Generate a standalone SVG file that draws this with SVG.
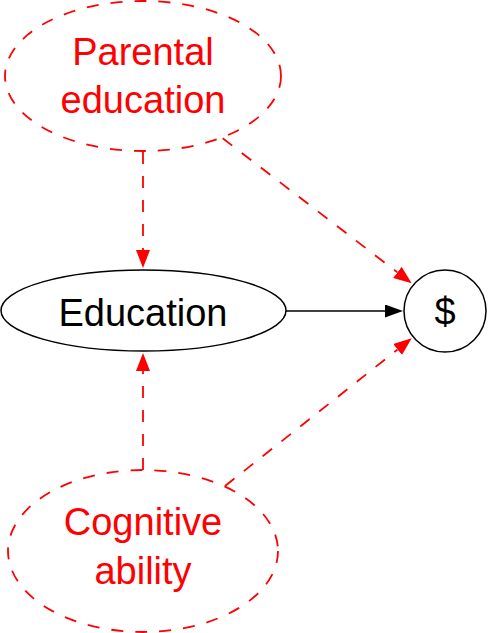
<svg xmlns="http://www.w3.org/2000/svg" width="488" height="633" viewBox="0 0 488 633">
<style>
.red{fill:none;stroke:#ff0000;stroke-width:1.8;stroke-dasharray:12 12}
.blk{fill:#ffffff;stroke:#000000;stroke-width:1.5}
.lbl{font-family:"Liberation Sans",Arial,sans-serif;font-size:38px;text-anchor:middle}
.rt{fill:#ff0000}
.bt{fill:#000000}
</style>
<defs>
<marker id="ar" markerUnits="userSpaceOnUse" markerWidth="18" markerHeight="14" refX="0" refY="7" orient="auto" viewBox="0 0 18 14">
<path d="M0,0 L18,7 L0,14 Z" fill="#ff0000"/>
</marker>
<marker id="ab" markerUnits="userSpaceOnUse" markerWidth="18" markerHeight="13" refX="0" refY="6.5" orient="auto" viewBox="0 0 18 13">
<path d="M0,0 L18,6.5 L0,13 Z" fill="#000000"/>
</marker>
</defs>
<g id="connectors">
<line x1="143" y1="152" x2="143" y2="250" class="red" marker-end="url(#ar)"/>
<line x1="143" y1="470" x2="143" y2="371" class="red" marker-end="url(#ar)"/>
<line x1="222.7" y1="138.3" x2="397.4" y2="272.4" class="red" marker-end="url(#ar)"/>
<line x1="225" y1="486" x2="397.6" y2="349.5" class="red" marker-end="url(#ar)"/>
<line x1="286" y1="311" x2="385" y2="311" stroke="#000000" stroke-width="1.5" marker-end="url(#ab)"/>
</g>
<g id="parental">
<ellipse cx="143" cy="76" rx="138" ry="75" class="red"/>
<text x="143" y="65" class="lbl rt">Parental</text>
<text x="143" y="113" class="lbl rt">education</text>
</g>
<g id="education">
<ellipse cx="143.5" cy="310.5" rx="142.5" ry="40.5" class="blk"/>
<text x="143" y="326" class="lbl bt">Education</text>
</g>
<g id="money">
<circle cx="445" cy="311" r="41" class="blk"/>
<text x="445" y="325" class="lbl bt">$</text>
</g>
<g id="cognitive">
<ellipse cx="143" cy="551" rx="135" ry="81" class="red"/>
<text x="143" y="535" class="lbl rt">Cognitive</text>
<text x="143" y="584" class="lbl rt">ability</text>
</g>
</svg>
